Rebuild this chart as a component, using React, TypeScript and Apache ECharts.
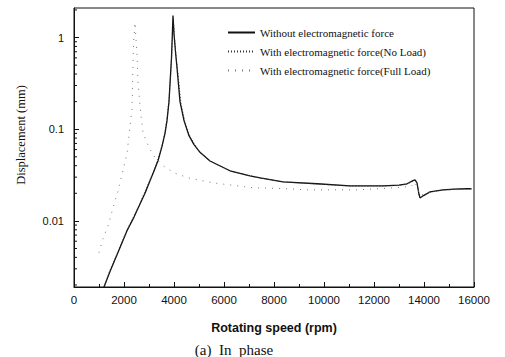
import React, { useEffect, useRef } from "react";
import * as echarts from "echarts";

// Rotating speed (rpm) and displacement (mm) for each curve
const rpmWithout = [1200, 1440, 1800, 2120, 2400, 2640, 2840, 3040, 3200, 3360, 3520, 3640, 3720, 3800, 3840, 3900, 3960, 4000, 4060, 4120, 4240, 4400, 4600, 4800, 5040, 5440, 6240, 7040, 7440, 8360, 9720, 11040, 12360, 13000, 13320, 13560, 13640, 13720, 13800, 13840, 14000, 14240, 14760, 15200, 15720, 15900];
const dispWithout = [0.0019, 0.0028, 0.0048, 0.0078, 0.011, 0.0153, 0.02, 0.0274, 0.035, 0.0453, 0.065, 0.09, 0.124, 0.2, 0.314, 0.6, 1.74, 1.1, 0.7, 0.47, 0.2, 0.124, 0.085, 0.068, 0.056, 0.045, 0.0352, 0.031, 0.0295, 0.0267, 0.0254, 0.0241, 0.0241, 0.0245, 0.0254, 0.0275, 0.028, 0.026, 0.0195, 0.0178, 0.019, 0.0207, 0.0218, 0.0222, 0.0224, 0.0224];

const rpmNoLoad = [1200, 1440, 1800, 2120, 2400, 2640, 2840, 3040, 3200, 3360, 3520, 3640, 3720, 3800, 3860, 3920, 3980, 4020, 4080, 4160, 4280, 4440, 4640, 4840, 5040, 5440, 6240, 7040, 7440, 8360, 9720, 11040, 12360, 13000, 13320, 13560, 13640, 13720, 13800, 13840, 14000, 14240, 14760, 15200, 15720, 15900];
const dispNoLoad = [0.0019, 0.0029, 0.0049, 0.008, 0.0113, 0.0156, 0.021, 0.028, 0.036, 0.047, 0.067, 0.093, 0.13, 0.21, 0.36, 0.75, 1.45, 1.0, 0.62, 0.4, 0.19, 0.12, 0.083, 0.067, 0.056, 0.045, 0.035, 0.031, 0.0295, 0.0266, 0.0253, 0.024, 0.024, 0.0244, 0.0252, 0.0272, 0.0278, 0.0258, 0.0195, 0.018, 0.019, 0.0206, 0.0217, 0.0221, 0.0223, 0.0223];

const rpmFullLoad = [1000, 1160, 1360, 1640, 1760, 2120, 2320, 2380, 2440, 2520, 2560, 2680, 2760, 2920, 3120, 3240, 3560, 4000, 4560, 4760, 5560, 7160, 8560, 9360, 10120, 11320, 12920, 13240, 13500, 13640, 13840, 14240, 14760, 15720, 15900];
const dispFullLoad = [0.0045, 0.0064, 0.0088, 0.0166, 0.0213, 0.054, 0.168, 0.86, 1.46, 0.64, 0.32, 0.14, 0.092, 0.071, 0.055, 0.049, 0.04, 0.0335, 0.0295, 0.0288, 0.026, 0.023, 0.0224, 0.0218, 0.0218, 0.0218, 0.023, 0.0235, 0.024, 0.0265, 0.019, 0.0205, 0.0215, 0.0222, 0.0222];

// Minor log ticks on the displacement axis
const minorTickValues = [0.002, 0.003, 0.004, 0.005, 0.006, 0.007, 0.008, 0.009, 0.02, 0.03, 0.04, 0.05, 0.06, 0.07, 0.08, 0.09, 0.2, 0.3, 0.4, 0.5, 0.6, 0.7, 0.8, 0.9, 2];

const seriesNames = [
  "Without electromagnetic force",
  "With electromagnetic force(No Load)",
  "With electromagnetic force(Full Load)",
];

const zip = (xs: number[], ys: number[]) => xs.map((x, i) => [x, ys[i]]);

export default function App() {
  const ref = useRef<HTMLDivElement>(null);
  useEffect(() => {
    if (!ref.current) return;
    document.body.style.margin = "0";
    const chart = echarts.init(ref.current, undefined, { renderer: "svg" });
    chart.setOption({
      animation: false,
      backgroundColor: "#fff",
      grid: { left: 74, right: 31, top: 8, bottom: 70, show: true, borderColor: "#111", borderWidth: 1 },
      legend: {
        data: seriesNames,
        orient: "vertical",
        left: 222,
        top: 22,
        itemWidth: 27,
        itemHeight: 10,
        itemGap: 8,
        itemStyle: { opacity: 0 },
        textStyle: { fontFamily: "Liberation Serif", fontSize: 11, color: "#111" },
      },
      xAxis: {
        type: "value",
        min: 0,
        max: 16000,
        interval: 2000,
        name: "Rotating speed (rpm)",
        nameLocation: "middle",
        nameGap: 34,
        nameTextStyle: { fontFamily: "Liberation Sans", fontSize: 12.5, fontWeight: "bold", color: "#111" },
        axisLine: { lineStyle: { color: "#111", width: 1 } },
        axisTick: { inside: true, length: 5, lineStyle: { color: "#111" } },
        minorTick: { show: true, splitNumber: 2, length: 3, lineStyle: { color: "#111" } },
        splitLine: { show: false },
        axisLabel: {
          fontFamily: "Liberation Sans",
          fontSize: 11.5,
          color: "#111",
          margin: 7,
          formatter: (v: number) => String(v),
        },
      },
      yAxis: {
        type: "log",
        min: 0.0019,
        max: 2.1,
        axisLine: { lineStyle: { color: "#111", width: 1 } },
        axisTick: { inside: true, length: 5, lineStyle: { color: "#111" } },
        splitLine: { show: false },
        axisLabel: {
          showMinLabel: false,
          showMaxLabel: false,
          fontFamily: "Liberation Sans",
          fontSize: 11,
          color: "#111",
          margin: 10,
          formatter: (v: number) => String(Number(v.toPrecision(3))),
        },
      },
      series: [
        {
          name: seriesNames[0],
          type: "line",
          data: zip(rpmWithout, dispWithout),
          showSymbol: false,
          symbol: "none",
          lineStyle: { color: "#111", width: 1.3 },
          itemStyle: { color: "#111" },
        },
        {
          name: seriesNames[1],
          type: "line",
          data: zip(rpmNoLoad, dispNoLoad),
          showSymbol: false,
          symbol: "none",
          lineStyle: { color: "#333", width: 1, type: [1, 2] },
          itemStyle: { color: "#333" },
        },
        {
          name: seriesNames[2],
          type: "line",
          data: zip(rpmFullLoad, dispFullLoad),
          showSymbol: false,
          symbol: "none",
          lineStyle: { color: "#777", width: 1, type: [1, 6] },
          itemStyle: { color: "#777" },
        },
        {
          name: "minorTicks",
          type: "custom",
          silent: true,
          clip: false,
          data: minorTickValues.map((v) => [0, v]),
          renderItem: (_params: any, api: any) => {
            const p = api.coord([0, api.value(1)]);
            return {
              type: "line",
              shape: { x1: p[0], y1: p[1], x2: p[0] + 3, y2: p[1] },
              style: { stroke: "#111", lineWidth: 1 },
            };
          },
        },
      ],
      graphic: [
        {
          type: "text",
          x: 21,
          y: 135,
          rotation: Math.PI / 2,
          style: {
            text: "Displacement (mm)",
            font: "12.5px 'Liberation Serif'",
            fill: "#111",
            align: "center",
            verticalAlign: "middle",
          },
        },
        {
          type: "text",
          x: 234,
          y: 350,
          style: {
            text: "(a)  In  phase",
            font: "15px 'Liberation Serif'",
            fill: "#111",
            align: "center",
            verticalAlign: "middle",
          },
        },
      ],
    });
    return () => chart.dispose();
  }, []);
  return <div ref={ref} style={{ width: 505, height: 357 }} />;
}
